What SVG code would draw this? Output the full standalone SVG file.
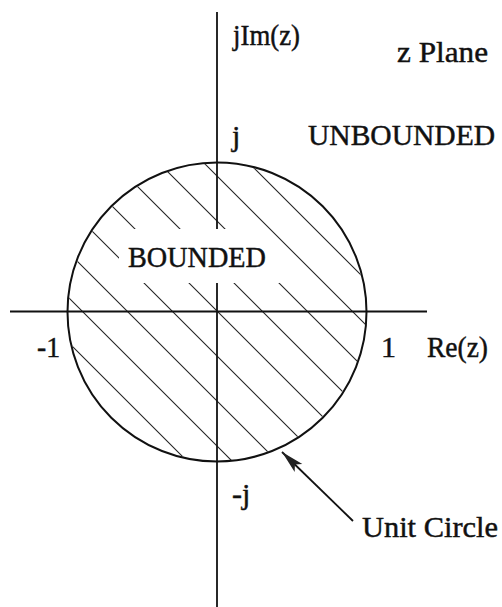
<svg xmlns="http://www.w3.org/2000/svg" width="502" height="607" viewBox="0 0 502 607">
  <style>
    .lbl { font-family: "Liberation Serif", "Times New Roman", serif; font-size: 30px; fill: #111; stroke: #111; stroke-width: 0.45; }
    .axis { stroke: #111; stroke-width: 1.8; fill: none; }
    .hatch { stroke: #222; stroke-width: 1.1; fill: none; }
    .circ { stroke: #111; stroke-width: 2; fill: none; }
  </style>
  <defs>
    <clipPath id="inCircle">
      <circle cx="217" cy="312" r="148.5"/>
    </clipPath>
    <marker id="arrowHead" markerUnits="userSpaceOnUse" markerWidth="26" markerHeight="14" refX="23" refY="7" orient="auto">
      <path d="M0,1.5 L23,7 L0,12.5 L5,7 z" fill="#222"/>
    </marker>
  </defs>
  <rect width="502" height="607" fill="#fff"/>

  <g id="hatching" clip-path="url(#inCircle)">
    <line class="hatch" x1="-124" y1="150" x2="196" y2="470"/>
    <line class="hatch" x1="-79" y1="150" x2="241" y2="470"/>
    <line class="hatch" x1="-34" y1="150" x2="286" y2="470"/>
    <line class="hatch" x1="11" y1="150" x2="331" y2="470"/>
    <line class="hatch" x1="56" y1="150" x2="376" y2="470"/>
    <line class="hatch" x1="101" y1="150" x2="421" y2="470"/>
    <line class="hatch" x1="146" y1="150" x2="466" y2="470"/>
    <line class="hatch" x1="191" y1="150" x2="511" y2="470"/>
    <line class="hatch" x1="236" y1="150" x2="556" y2="470"/>
  </g>
  <polygon id="labelGap" points="119,229 268,229 280,283 119,283" fill="#fff"/>

  <g id="connectors">
    <line class="axis" x1="217" y1="12" x2="217" y2="229"/>
    <line class="axis" x1="217" y1="283" x2="217" y2="607"/>
    <line class="axis" x1="10" y1="311.5" x2="427" y2="311.5"/>
    <line stroke="#111" stroke-width="1.8" x1="353" y1="521" x2="282" y2="452" marker-end="url(#arrowHead)"/>
  </g>

  <g id="unitCircle">
    <circle class="circ" cx="217" cy="312" r="149.5"/>
  </g>

  <g id="labels">
    <text class="lbl" x="233" y="45" textLength="67" lengthAdjust="spacingAndGlyphs">jIm(z)</text>
    <text class="lbl" x="397" y="62" textLength="91" lengthAdjust="spacingAndGlyphs">z Plane</text>
    <text class="lbl" x="232" y="146">j</text>
    <text class="lbl" x="308" y="145" textLength="187" lengthAdjust="spacingAndGlyphs">UNBOUNDED</text>
    <text class="lbl" x="128" y="267" textLength="138" lengthAdjust="spacingAndGlyphs">BOUNDED</text>
    <text class="lbl" x="37" y="357" textLength="23" lengthAdjust="spacingAndGlyphs">-1</text>
    <text class="lbl" x="381" y="357">1</text>
    <text class="lbl" x="427" y="357" textLength="61" lengthAdjust="spacingAndGlyphs">Re(z)</text>
    <text class="lbl" x="232" y="504">-j</text>
    <text class="lbl" x="362" y="537" textLength="136" lengthAdjust="spacingAndGlyphs">Unit Circle</text>
  </g>
</svg>
